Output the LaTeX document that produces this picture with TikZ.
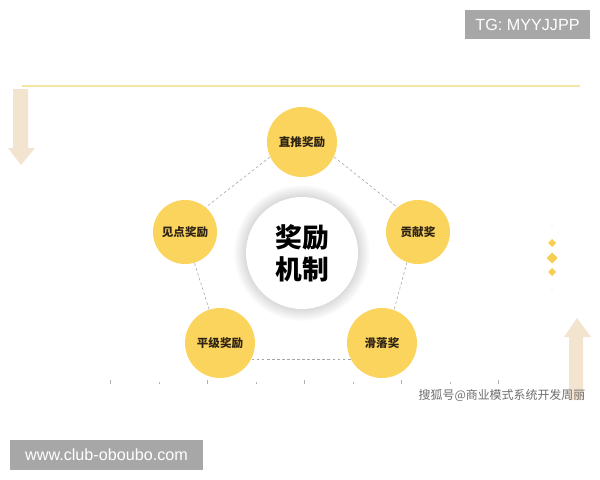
\documentclass[tikz,border=0pt]{standalone}
\usepackage{fontspec}
\setmainfont{Liberation Sans}
\newfontfamily\cjk{Noto Sans CJK SC}
\definecolor{awardYellow}{HTML}{FBD45E}
\definecolor{awardText}{HTML}{2E2314}
\definecolor{arrowBeige}{HTML}{F3E4D0}
\definecolor{lineYellow}{HTML}{F3E5A4}
\definecolor{badgeGray}{HTML}{A7A7A7}
\definecolor{linkGray}{HTML}{A5A5A5}
\definecolor{dotYellow}{HTML}{F6CF50}
\definecolor{markGray}{HTML}{6E6E6E}
\tikzset{
    award/.style={circle,fill=awardYellow,inner sep=0pt,text=awardText,
        font=\cjk\bfseries\fontsize{8.2}{10}\selectfont},
    link/.style={draw=linkGray,dash pattern=on 2pt off 1.6pt,line width=0.4pt},
    badge/.style={fill=badgeGray,text=white,inner sep=0pt,
        font=\fontsize{11.5}{13}\selectfont}
}
\begin{document}
\begin{tikzpicture}[x=0.025cm,y=-0.025cm]
    \useasboundingbox (0,0) rectangle (600,480);
    \fill[white] (0,0) rectangle (600,480);
    \node[badge,minimum width=3.125cm,minimum height=0.725cm] (tgTag) at (527.5,24.5) {TG: MYYJJPP};
    \draw[lineYellow,line width=1.4pt] (22,86) -- (580,86);
    \fill[arrowBeige] (13,89) -- (28,89) -- (28,148) -- (35,148) -- (21,165) -- (8,148) -- (13,148) -- cycle;
    \fill[arrowBeige] (569,400) -- (569,337) -- (564,337) -- (577,318) -- (591,337) -- (583,337) -- (583,400) -- cycle;
    \foreach \y/\s in {243/4,258/5.5,272/4}
        \fill[dotYellow] (552,\y-\s) -- (552+\s,\y) -- (552,\y+\s) -- (552-\s,\y) -- cycle;
    \fill[black!15] (552,226) circle (0.5pt);
    \fill[black!15] (552,290) circle (0.5pt);
    \coordinate (cMidPt) at (302,253);
    \foreach \r in {56,57,...,68}
        \fill[black,opacity=0.012] (cMidPt) circle (\r*0.025cm);
    \node[circle,fill=white,minimum size=2.8cm] (cMid) at (cMidPt) {};
    \node[font=\cjk\bfseries\fontsize{19}{23}\selectfont,align=center,text=black] (cMidText) at (cMidPt) {奖励\\机制};
\foreach \n/\x/\y/\d/\t in
{cTop/302/142/1.75cm/直推奖励,
    cRight/418/232/1.6cm/贡献奖,
    cLowRight/382/343/1.75cm/滑落奖,
    cLowLeft/220/343/1.75cm/平级奖励,
    cLeft/185/232/1.6cm/见点奖励
}
{
    \node[award,minimum size=\d] (\n) at (\x,\y) {\t};
};
    \draw[link] (cTop.205) -- (cLeft.50);
    \draw[link] (cTop.-25) -- (cRight.130);
    \draw[link] (cRight.-110) -- (cLowRight.70);
    \draw[link] (cLowRight.-153) -- (cLowLeft.-27);
    \draw[link] (cLowLeft.108) -- (cLeft.-73);
    \foreach \x/\h in {110/4,159/2,207/4,256/2,304/4,353/2,401/4,450/2,498/4}
        \draw[black!30,line width=0.4pt] (\x,384-\h) -- (\x,384);
    \node[font=\cjk\fontsize{8.5}{10}\selectfont,text=markGray] (sohuMark) at (502,395) {搜狐号@商业模式系统开发周丽};
    \node[badge,minimum width=4.825cm,minimum height=0.75cm] (siteTag) at (106.5,455) {www.club-oboubo.com};
\end{tikzpicture}
\end{document}
